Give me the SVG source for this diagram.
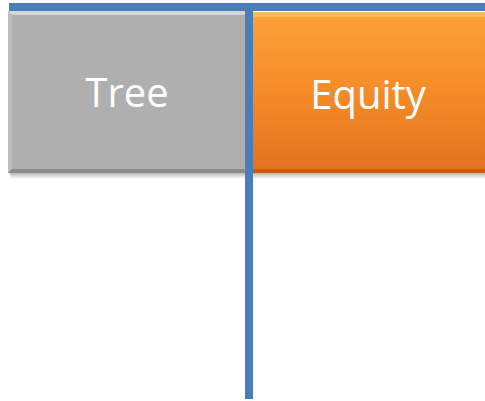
<svg xmlns="http://www.w3.org/2000/svg" width="485" height="401" viewBox="0 0 485 401">
<defs>
<linearGradient id="og" x1="0" y1="0" x2="0" y2="1">
<stop offset="0" stop-color="#fda23a"/>
<stop offset="0.5" stop-color="#f58b27"/>
<stop offset="1" stop-color="#e0721e"/>
</linearGradient>
<linearGradient id="shadow" x1="0" y1="0" x2="0" y2="1">
<stop offset="0" stop-color="#888" stop-opacity="0.6"/>
<stop offset="1" stop-color="#888" stop-opacity="0"/>
</linearGradient>
<style>
.lbl{font-family:"Open Sans","Liberation Sans",sans-serif;font-size:40px;fill:#ffffff;text-anchor:middle}
.conn{stroke:#4a7ebb;stroke-width:8;fill:none}
</style>
</defs>
<rect x="0" y="0" width="485" height="401" fill="#ffffff"/>
<g id="tree">
<rect x="10" y="173" width="238" height="6" fill="url(#shadow)"/>
<rect x="8" y="11" width="240" height="162" fill="#afafaf"/>
<polygon points="8,11 248,11 244,15 12,15" fill="#d6d6d6"/>
<polygon points="8,11 12,15 12,169 8,173" fill="#bdbdbd"/>
<polygon points="8,173 12,169 244,169 248,173" fill="#8a8a8a"/>
<text class="lbl" x="127" y="107">Tree</text>
</g>
<g id="equity">
<rect x="252" y="173" width="233" height="6" fill="url(#shadow)"/>
<rect x="250" y="12" width="235" height="161" fill="url(#og)"/>
<polygon points="250,12 485,12 485,17 254,17" fill="#ffc05a" opacity="0.8"/>
<polygon points="250,173 254,169 485,169 485,173" fill="#b8581a" opacity="0.8"/>
<text class="lbl" x="368" y="109">Equity</text>
</g>
<g id="connectors">
<line class="conn" x1="9" y1="7" x2="485" y2="7"/>
<line class="conn" x1="249" y1="3" x2="249" y2="399"/>
</g>
</svg>
